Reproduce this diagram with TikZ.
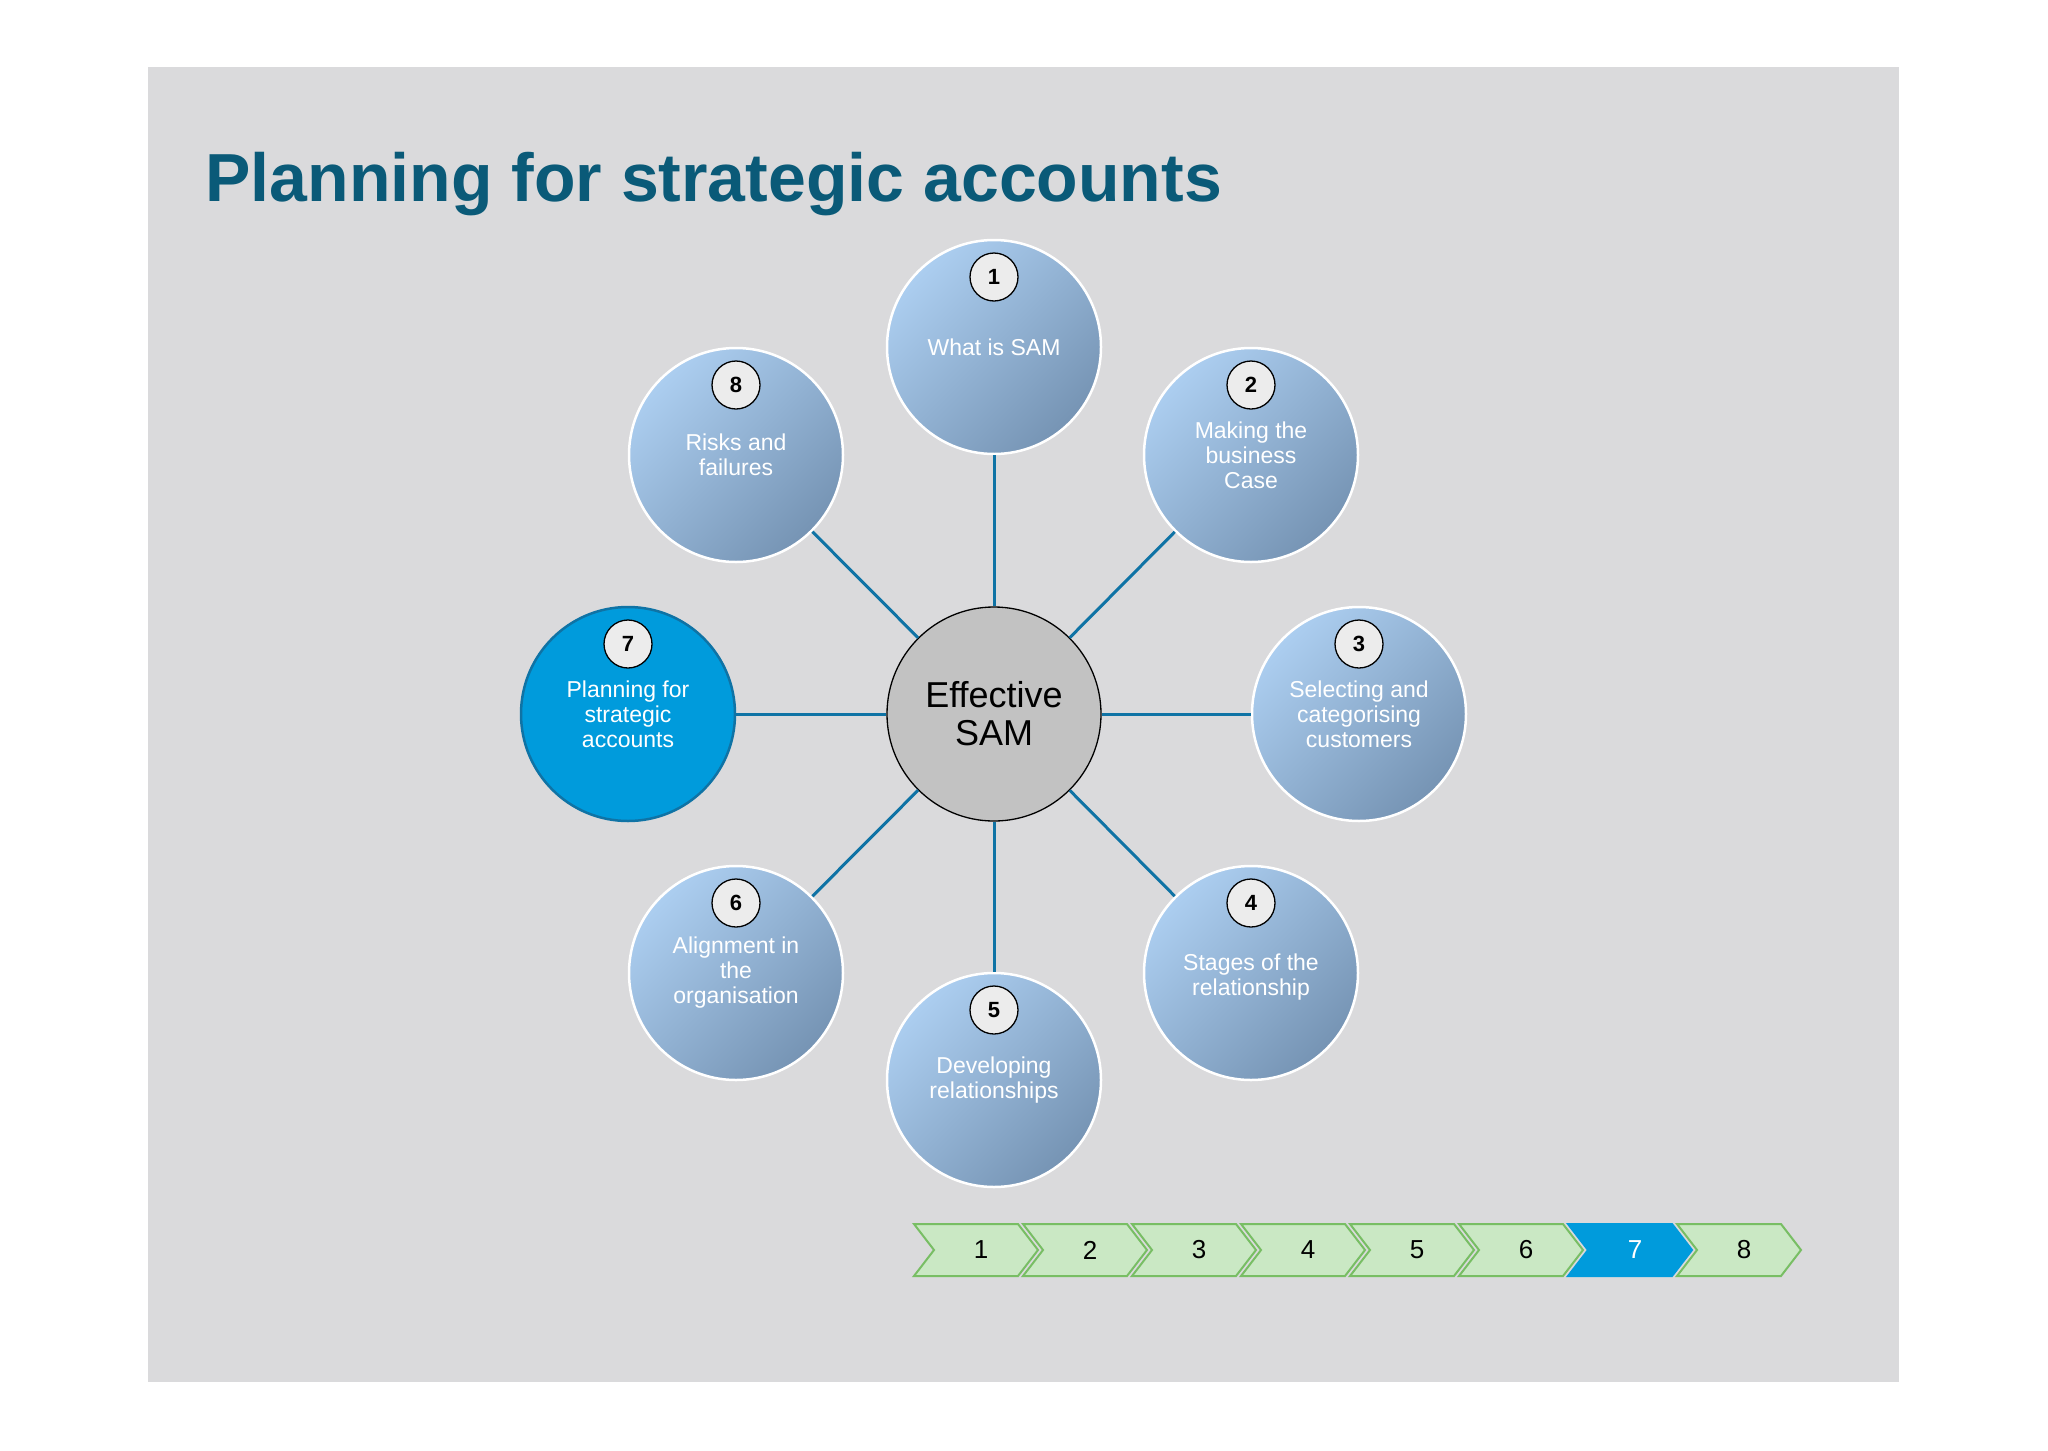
\documentclass[tikz,border=0pt]{standalone}
\usepackage{fontspec}
\setmainfont{Liberation Sans}
\begin{document}
\begin{tikzpicture}[x=1pt,y=-1pt,
  bub/.style={circle,minimum size=214pt,inner sep=0pt,draw=white,line width=2.5pt,
    left color=bl1,right color=bl2,shading angle=45,text=white,align=center,
    font=\fontsize{23}{25}\selectfont},
  badge/.style={circle,minimum size=48pt,inner sep=0pt,draw=black,line width=1.3pt,fill=gray!15,
    font=\bfseries\fontsize{22}{24}\selectfont},
  link/.style={draw=lk,line width=3pt},
  chev/.style={draw=cvb,line width=2pt,fill=cvf}]
\definecolor{bg}{RGB}{218,218,220}
\definecolor{ttl}{RGB}{10,90,120}
\definecolor{bl1}{RGB}{172,206,240}
\definecolor{bl2}{RGB}{118,148,180}
\definecolor{lk}{RGB}{15,115,165}
\definecolor{act}{RGB}{0,155,220}
\definecolor{cvf}{RGB}{202,232,196}
\definecolor{cvb}{RGB}{120,190,100}
\fill[white] (0,0) rectangle (2048,1451);
\useasboundingbox (0,0) rectangle (2048,1451);
\fill[bg] (148,67) rectangle (1899,1382);
\node[anchor=west,text=ttl,font=\bfseries\fontsize{68}{70}\selectfont] (title) at (202,184) {Planning for strategic accounts};
\node[circle,minimum size=214pt,inner sep=0pt,draw=black,line width=1.3pt,fill=gray!48!white,
  font=\fontsize{36}{38}\selectfont,align=center] (c) at (994,714) {Effective\\SAM};
\node[bub] (n1) at (994,347) {What is SAM};
\node[bub] (n2) at (1251,455) {Making the\\business\\Case};
\node[bub] (n3) at (1359,714) {Selecting and\\categorising\\customers};
\node[bub] (n4) at (1251,973) {\\Stages of the\\relationship};
\node[bub] (n5) at (994,1080) {Developing\\relationships};
\node[bub] (n6) at (736,973) {Alignment in\\the\\organisation};
\node[bub,draw=lk,left color=act,right color=act] (n7) at (628,714) {Planning for\\strategic\\accounts};
\node[bub] (n8) at (736,455) {Risks and\\failures};
\foreach \i in {1,...,8}{
  \node[badge] (b\i) at ([yshift=70pt]n\i.center) {\i};
  \path[link] (c) -- (n\i);
}
\foreach \i in {1,...,8}{
  \pgfmathsetmacro\xa{914+(\i-1)*109}
  \pgfmathsetmacro\xb{\xa+104}
  \pgfmathsetmacro\xc{\xa+124}
  \pgfmathsetmacro\xd{\xa+20}
  \ifnum\i=7
    \filldraw[chev,fill=act,draw=act] (\xa,1224) -- (\xb,1224) -- (\xc,1250) -- (\xb,1276) -- (\xa,1276) -- (\xd,1250) -- cycle;
    \node[text=white,font=\fontsize{26}{28}\selectfont] (k\i) at (\xa+67,1250) {\i};
  \else
    \filldraw[chev] (\xa,1224) -- (\xb,1224) -- (\xc,1250) -- (\xb,1276) -- (\xa,1276) -- (\xd,1250) -- cycle;
    \node[font=\fontsize{26}{28}\selectfont] (k\i) at (\xa+67,1250) {\i};
  \fi
}
\end{tikzpicture}
\end{document}
